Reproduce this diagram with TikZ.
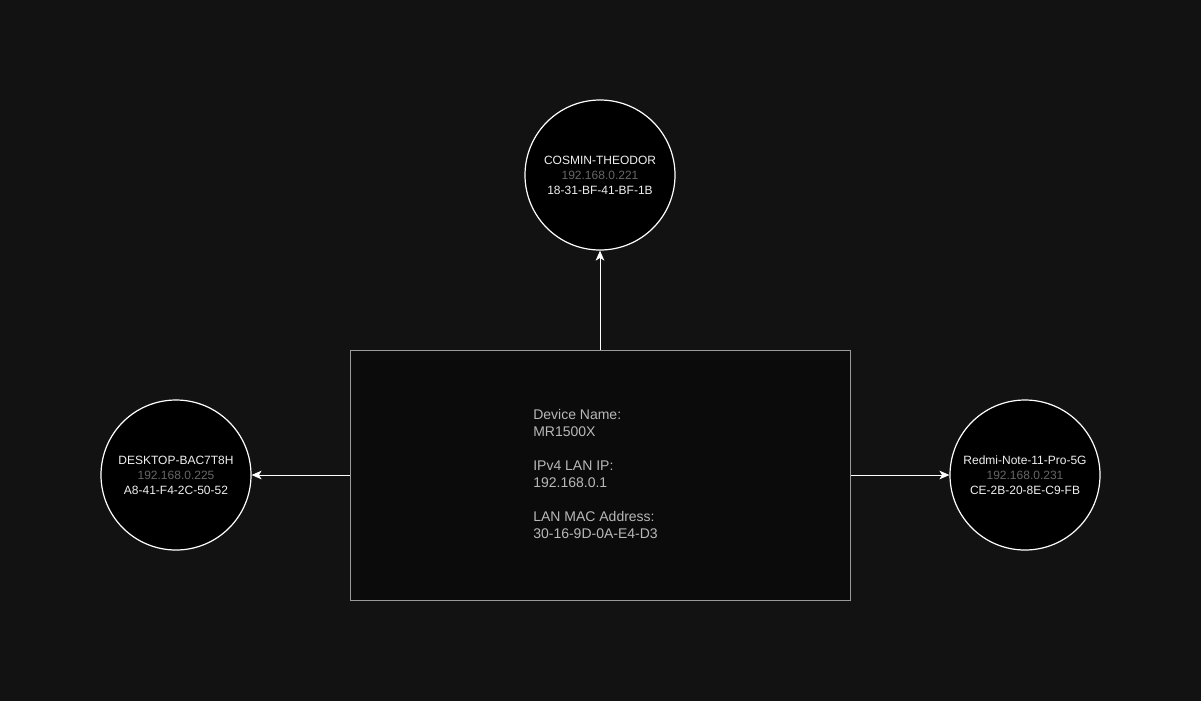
\documentclass[tikz,border=0pt]{standalone}
\usepackage{fontspec}
\setmainfont{Liberation Sans}
\usetikzlibrary{arrows.meta}
\definecolor{bgc}{HTML}{121212}
\definecolor{rectfill}{HTML}{0B0B0B}
\definecolor{rectline}{HTML}{9A9A9A}
\definecolor{iptext}{HTML}{666666}
\definecolor{maintext}{HTML}{F0F0F0}
\definecolor{recttext}{HTML}{B8B8B8}
\begin{document}
\begin{tikzpicture}[x=0.75pt,y=-0.75pt,
  device/.style={circle,draw=white,fill=black,line width=0.9pt,minimum size=112.5pt,inner sep=0pt,
    font=\fontsize{9pt}{11.25pt}\selectfont,text=maintext,align=center},
  router/.style={rectangle,draw=rectline,fill=rectfill,line width=0.75pt,minimum width=375pt,minimum height=187.5pt,inner sep=0pt},
  link/.style={draw=white,line width=0.75pt,-{Stealth[length=7.5pt,width=6.5pt,inset=2pt]}}]
\fill[bgc] (0,0) rectangle (1201,701);
\useasboundingbox (0,0) rectangle (1201,701);
\node[router] (r) at (600,475) {};
\node[anchor=north west,inner sep=0pt,text=recttext,align=left,font=\fontsize{10.5pt}{12.75pt}\selectfont] (rt) at (533,409.5)
  {Device Name:\\MR1500X\\[12.75pt]IPv4 LAN IP:\\192.168.0.1\\[12.75pt]LAN MAC Address:\\30-16-9D-0A-E4-D3};
\node[device] (top) at (600,175) {COSMIN-THEODOR\\\textcolor{iptext}{192.168.0.221}\\18-31-BF-41-BF-1B};
\node[device] (left) at (176,475) {DESKTOP-BAC7T8H\\\textcolor{iptext}{192.168.0.225}\\A8-41-F4-2C-50-52};
\node[device] (right) at (1025,475) {Redmi-Note-11-Pro-5G\\\textcolor{iptext}{192.168.0.231}\\CE-2B-20-8E-C9-FB};
\draw[link] (r.north) -- (top.south);
\draw[link] (r.west) -- (left.east);
\draw[link] (r.east) -- (right.west);
\end{tikzpicture}
\end{document}
